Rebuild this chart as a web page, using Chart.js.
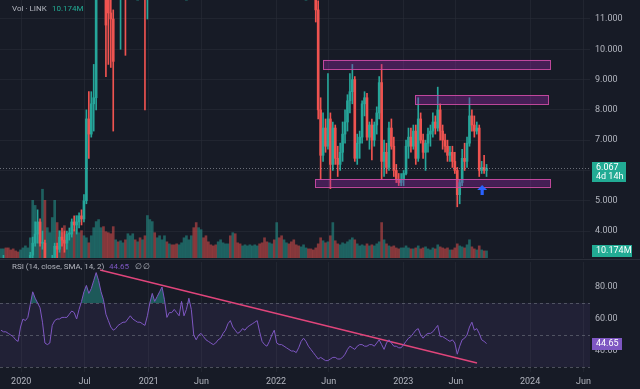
<!DOCTYPE html>
<html>
<head>
<meta charset="utf-8">
<script src="https://cdn.jsdelivr.net/npm/chart.js@4.4.1/dist/chart.umd.min.js"></script>
<style>
  html, body { margin: 0; padding: 0; background: #171b26; }
  #lienzo { position: relative; width: 640px; height: 389px; overflow: hidden; background: #171b26; }
  #lienzo canvas { position: absolute; left: 0; }
  #precio { top: 0; }
  #rsi { top: 260px; }
  #separador { position: absolute; left: 0; top: 259px; width: 640px; height: 1px; background: #2a2e39; }
</style>
</head>
<body>
<div id="lienzo">
  <canvas id="precio" width="640" height="258"></canvas>
  <div id="separador"></div>
  <canvas id="rsi" width="640" height="129"></canvas>
</div>
<script>
// Velas semanales LINK (semana 0 = 4 nov 2019)
const aperturas = [
  2.75,2.85,2.9,2.3,2.2,2.1,2.0,1.85,1.8,1.95,
  2.3,2.45,2.6,3.2,3.6,3.9,4.3,3.6,3.6,2.1,
  2.3,2.7,3.1,3.5,3.4,3.8,3.7,3.6,3.9,3.9,
  4.3,4.2,4.3,4.5,4.4,5.0,7.7,7.2,8.2,8.4,
  12.0,15.6,16.5,15.3,12.8,11.2,11.0,12.0,12.5,12.0,
  12.6,13.0,12.4,12.5,12.6,14.0,13.5,13.5,12.5,13.0,
  11.7,12.8,16.5,22.0,21.0,22.5,25.0,28.0,33.0,26.0,
  30.0,28.5,28.0,27.0,31.5,33.0,37.0,37.0,43.0,46.0,
  36.0,26.0,27.0,28.0,25.0,20.5,20.0,18.5,18.0,15.5,
  20.0,21.5,24.5,26.5,28.5,28.0,33.0,30.0,28.0,23.0,
  26.5,27.5,29.0,30.5,31.5,33.5,34.0,28.5,25.5,22.0,
  19.5,20.5,21.0,20.5,25.0,23.0,16.5,17.5,18.5,16.5,
  14.5,13.8,13.3,13.0,14.2,16.5,16.5,14.8,13.8,13.4,
  11.3,8.0,6.5,7.4,6.8,7.7,6.2,7.4,6.4,6.2,
  6.6,7.2,7.6,8.3,8.6,9.0,6.4,6.9,7.1,8.2,
  8.4,7.1,7.5,7.0,7.5,7.9,8.9,6.3,6.6,6.1,
  7.4,6.8,6.0,5.7,5.6,5.7,5.9,6.8,7.1,6.8,
  7.3,6.4,7.7,7.0,6.6,6.9,7.2,7.3,7.6,7.4,
  8.0,7.3,7.0,6.8,6.5,6.6,6.3,6.0,5.2,5.6,
  6.4,6.3,6.9,7.8,7.5,7.3,7.4,6.0,6.1,6.0
];
const maximos = [
  3.05,3.2,2.95,2.5,2.3,2.15,2.1,1.95,2.0,2.35,
  2.6,2.7,3.3,3.8,4.3,4.7,4.4,4.0,3.7,2.6,
  2.9,3.2,3.6,3.6,4.0,4.1,4.0,4.0,4.1,4.4,
  4.5,4.5,4.6,4.7,5.2,8.0,8.6,8.6,9.5,12.5,
  16.0,20.1,17.5,16.5,13.0,12.5,11.3,12.8,13.2,13.0,
  13.5,13.6,13.2,13.6,15.0,15.5,15.2,14.0,14.3,13.5,
  13.2,17.0,23.0,24.0,24.5,26.0,29.0,35.0,34.0,31.0,
  32.0,33.0,29.0,32.0,34.0,44.0,41.0,45.0,52.0,52.0,
  38.0,34.0,35.0,32.0,28.0,21.0,21.5,21.0,18.8,20.5,
  23.0,25.0,28.5,29.0,30.5,35.0,36.0,32.0,29.5,27.5,
  29.0,30.0,32.0,33.0,36.0,37.0,35.0,29.5,28.0,23.5,
  22.5,23.0,23.5,28.0,27.0,24.0,18.0,19.0,19.5,17.5,
  15.5,15.0,14.0,14.5,17.0,18.0,17.0,15.5,14.8,14.0,
  11.6,8.4,7.9,7.7,9.2,7.9,7.6,7.5,6.8,6.9,
  7.6,8.0,8.5,9.2,9.5,9.1,7.2,7.3,8.3,8.6,
  8.55,7.6,7.7,7.6,8.1,9.1,9.5,7.0,6.9,7.6,
  7.7,7.1,6.2,5.9,5.9,6.0,7.0,7.4,7.4,7.5,
  7.5,8.4,7.9,7.2,7.0,7.4,7.5,7.9,7.8,8.75,
  8.2,7.5,7.2,7.0,6.8,6.8,6.6,6.1,5.7,6.7,
  6.9,7.1,8.4,8.0,7.8,7.6,7.5,6.3,6.5,6.2
];
const minimos = [
  2.65,2.7,2.2,2.1,2.0,1.95,1.75,1.75,1.75,1.9,
  2.2,2.3,2.5,3.1,3.5,3.6,3.5,3.4,1.6,1.9,
  2.2,2.6,3.0,3.1,3.3,3.5,3.3,3.4,3.7,3.8,
  4.0,3.9,4.1,4.2,4.3,4.9,6.4,7.1,7.3,8.0,
  11.8,14.8,13.9,9.1,9.5,9.4,7.3,11.7,11.8,10.0,
  12.0,9.8,11.9,11.9,12.3,12.0,12.8,11.8,12.0,8.0,
  11.0,12.5,14.4,18.7,19.5,20.5,24.0,27.5,22.0,25.5,
  27.0,27.0,23.5,26.5,30.0,32.0,29.0,36.5,41.0,32.0,
  16.0,24.0,26.0,23.0,20.0,15.5,17.5,17.8,15.3,13.5,
  19.0,20.5,24.0,24.0,26.5,27.5,23.0,27.5,21.5,22.0,
  24.5,25.0,26.5,27.5,30.0,32.0,26.5,23.0,18.5,18.5,
  17.5,19.5,19.5,20.0,22.0,15.0,14.0,15.5,15.5,13.5,
  11.8,12.8,12.4,12.8,14.0,15.5,14.5,12.8,13.2,10.9,
  7.7,5.7,6.3,6.6,6.7,5.4,6.0,6.2,5.8,6.0,
  6.3,6.9,7.3,7.9,8.2,6.3,6.2,6.4,6.9,7.8,
  7.0,6.7,6.35,6.8,7.2,7.7,5.7,5.8,5.9,6.0,
  6.7,5.8,5.6,5.5,5.5,5.5,5.85,6.4,6.6,6.7,
  6.2,6.3,6.9,6.4,6.0,6.6,6.8,7.1,7.2,7.3,
  7.0,6.7,6.6,6.3,6.3,6.1,5.9,4.8,4.9,5.5,
  6.0,6.1,6.8,7.3,7.1,7.2,5.8,5.9,5.9,5.8
];
const cierres = [
  2.85,2.9,2.3,2.2,2.1,2.0,1.85,1.8,1.95,2.3,
  2.45,2.6,3.2,3.6,3.9,4.3,3.6,3.6,2.1,2.3,
  2.7,3.1,3.5,3.4,3.8,3.7,3.6,3.9,3.9,4.3,
  4.2,4.3,4.5,4.4,5.0,7.7,7.2,8.2,8.4,12.0,
  15.6,16.5,15.3,10.8,11.2,11.0,9.6,12.5,12.0,12.6,
  13.0,12.4,12.5,12.6,14.0,13.5,13.5,12.5,13.0,11.7,
  12.8,16.5,22.0,21.0,22.5,25.0,28.0,33.0,26.0,30.0,
  28.5,28.0,27.0,31.5,33.0,37.0,37.0,43.0,46.0,36.0,
  26.0,27.0,28.0,25.0,20.5,20.0,18.5,18.0,15.5,20.0,
  21.5,24.5,26.5,28.5,28.0,33.0,30.0,28.0,23.0,26.5,
  27.5,29.0,30.5,31.5,33.5,34.0,28.5,25.5,22.0,19.5,
  20.5,21.0,20.5,25.0,23.0,16.5,17.5,18.5,16.5,14.5,
  13.8,13.3,13.0,14.2,16.5,16.5,14.8,13.8,13.4,11.3,
  8.0,6.5,7.4,6.8,7.7,6.2,7.4,6.4,6.2,6.6,
  7.2,7.6,8.3,8.6,9.0,6.4,6.9,7.1,8.2,8.4,
  7.1,7.5,7.0,7.5,7.9,8.9,6.3,6.6,6.1,7.4,
  6.8,6.0,5.7,5.6,5.7,5.9,6.8,7.1,6.8,7.3,
  6.4,7.7,7.0,6.6,6.9,7.2,7.3,7.6,7.4,8.0,
  7.3,7.0,6.8,6.5,6.6,6.3,6.0,5.2,5.6,6.4,
  6.3,6.9,7.8,7.5,7.3,7.4,6.0,6.1,6.0,6.067
];
// Volumen en millones
const volumenes = [
  13.1,13.1,14.5,14.5,11.6,13.1,10.2,8.7,11.6,14.5,
  17.4,14.5,29,82.7,75.4,39.2,50.8,98.6,82.7,43.5,
  36.3,58,82.7,50.8,39.2,36.3,46.4,31.9,36.3,43.5,
  40.6,60.9,36.3,39.2,31.9,29,21.8,31.9,43.5,52.2,
  55.1,43.5,45,37.7,36.3,34.8,45,26.1,23.2,24.7,
  21.8,26.1,34.8,31.9,34.8,26.1,23.2,29,26.1,31.9,
  60.9,55.1,52.2,36.3,29,31.9,26.1,31.9,23.2,20.3,
  18.9,18.9,20.3,18.9,21.8,29,31.9,26.1,31.9,43.5,
  50.8,43.5,40.6,29,31.9,23.2,18.9,17.4,18.9,23.2,
  26.1,21.8,20.3,20.3,31.9,36.3,34.8,21.8,20.3,17.4,
  18.9,17.4,18.9,17.4,18.9,17.4,20.3,21.8,29,23.2,
  21.8,20.3,26.1,50.8,29,31.9,26.1,21.8,20.3,23.2,
  26.1,18.9,17.4,16,18.9,14.5,13.1,13.1,11.6,14.5,
  20.3,29,24.7,21.8,23.2,31.9,50.8,24.7,20.3,18.9,
  21.8,20.3,23.2,26.1,29,26.1,20.3,17.4,18.9,17.4,
  20.3,17.4,18.9,17.4,20.3,23.2,50.8,26.1,20.3,17.4,
  16,17.4,14.5,13.1,14.5,14.5,17.4,14.5,13.1,13.1,
  14.5,17.4,13.1,14.5,16,13.1,11.6,14.5,13.1,18.9,
  16,14.5,13.1,14.5,11.6,11.6,14.5,20.3,17.4,16,
  14.5,18.9,26.1,16,13.1,11.6,17.4,11.6,10.2,10.174
];
const rsi = [
  53,52,52,51,50,49,47,46,55,60,
  59,61,69,77,73,70,67,58,45,44,
  45,56,59,60,60,61,61,61,63,65,
  64,60,66,71,77,81,76,79,84,89,
  84,77,72,63,59,55,53,54,56,57,
  58,58,60,62,60,59,58,58,57,56,
  62,70,76,71,74,77,80,72,61,64,
  64,66,64,62,71,62,66,73,66,50,
  47,50,51,49,47,46,45,44,45,47,
  48,51,53,57,59,55,53,51,52,54,
  53,55,56,57,58,59,52,46,44,43,
  46,50,53,45,44,44,43,42,41,40,
  40,39,42,46,48,46,43,41,39,37,
  35,36,35,34,34,35,36,36,35,35,
  36,38,41,43,42,41,43,44,44,43,
  43,44,44,43,45,47,44,41,45,47,
  45,43,43,42,42,44,46,48,49,51,
  53,54,50,48,50,51,51,52,54,56,
  49,49,48,47,46,47,45,38,43,47,
  48,50,55,58,53,54,51,47,46,44.65
];
// Eje de fechas (en semanas desde la primera vela)
const fechaTicks = [8.29, 34.29, 60.57, 82.14, 112.71, 134.29, 164.86, 186.43, 216.86, 238.71];
const fechaEtiquetas = ['2020', 'Jul', '2021', 'Jun', '2022', 'Jun', '2023', 'Jun', '2024', 'Jun'];
const precioTicks = [4, 5, 6, 7, 8, 9, 10, 11];
const rsiTicks = [40, 60, 80];
// Rectángulos dibujados (semana inicio/fin, precio bajo/alto)
const rectDesde = [132, 169.7, 128.7];
const rectHasta = [225, 224.2, 225];
const rectBajo = [9.35, 8.19, 5.46];
const rectAlto = [9.65, 8.49, 5.72];
// Flecha azul
const flechaSemana = 197.2;
const flechaPrecio = 5.52;
// Línea de tendencia sobre el RSI
const tendenciaX = [40.6, 195.1];
const tendenciaY = [90.6, 32.5];

const VERDE = '#26a69a';
const ROJO = '#ef5350';
const TEXTO = '#b2b5be';
const REJILLA = 'rgba(42,46,57,0.55)';
const FUENTE = 'Roboto, "Noto Sans", sans-serif';
Chart.defaults.font.family = FUENTE;

const semanas = aperturas.map((_, i) => i);
const sube = semanas.map(i => cierres[i] >= aperturas[i]);
const colorVela = sube.map(s => s ? VERDE : ROJO);
const colorVol = sube.map(s => s ? 'rgba(38,166,154,0.5)' : 'rgba(239,83,80,0.5)');
const ultimo = cierres.length - 1;

// sin márgenes automáticos para que el área del gráfico sea exacta
function sinRelleno(s) {
  s.paddingTop = 0; s.paddingBottom = 0; s.paddingLeft = 0; s.paddingRight = 0;
}

const ejeX = {
  type: 'linear', min: -0.41, max: 241.4, offset: false,
  afterBuildTicks: s => { s.ticks = fechaTicks.map(v => ({ value: v })); },
  grid: { color: REJILLA, drawTicks: false, offset: false },
  border: { display: false }
};

function insignia(ctx, x, y, w, h, fondo, lineas) {
  ctx.fillStyle = fondo;
  ctx.fillRect(x, y, w, h);
  ctx.fillStyle = '#ffffff';
  ctx.font = '9px ' + FUENTE;
  ctx.textBaseline = 'middle';
  ctx.textAlign = 'left';
  lineas.forEach((t, i) => ctx.fillText(t, x + 4, y + 6 + i * 9));
}

const dibujosPrecio = {
  id: 'dibujosPrecio',
  afterDatasetsDraw(chart) {
    const { ctx, chartArea: a, scales: { x, y } } = chart;
    ctx.save();
    ctx.beginPath();
    ctx.rect(a.left, a.top, a.width, a.height);
    ctx.clip();
    // línea del último precio
    const py = Math.round(y.getPixelForValue(cierres[ultimo])) + 0.5;
    ctx.setLineDash([1, 2]);
    ctx.strokeStyle = 'rgba(178,181,190,0.55)';
    ctx.lineWidth = 1;
    ctx.beginPath();
    ctx.moveTo(a.left, py);
    ctx.lineTo(a.right, py);
    ctx.stroke();
    ctx.setLineDash([]);
    // rectángulos
    for (let i = 0; i < rectDesde.length; i++) {
      const x0 = x.getPixelForValue(rectDesde[i]);
      const x1 = x.getPixelForValue(rectHasta[i]);
      const y0 = y.getPixelForValue(rectAlto[i]);
      const y1 = y.getPixelForValue(rectBajo[i]);
      ctx.fillStyle = 'rgba(156,39,176,0.35)';
      ctx.fillRect(x0, y0, x1 - x0, y1 - y0);
      ctx.strokeStyle = 'rgba(206,76,166,0.9)';
      ctx.strokeRect(Math.round(x0) + 0.5, Math.round(y0) + 0.5, Math.round(x1 - x0), Math.round(y1 - y0));
    }
    // flecha hacia arriba
    const fx = x.getPixelForValue(flechaSemana);
    const fy = y.getPixelForValue(flechaPrecio);
    ctx.fillStyle = '#2962ff';
    ctx.beginPath();
    ctx.moveTo(fx, fy);
    ctx.lineTo(fx + 5, fy + 5);
    ctx.lineTo(fx + 1.6, fy + 5);
    ctx.lineTo(fx + 1.6, fy + 10);
    ctx.lineTo(fx - 1.6, fy + 10);
    ctx.lineTo(fx - 1.6, fy + 5);
    ctx.lineTo(fx - 5, fy + 5);
    ctx.closePath();
    ctx.fill();
    ctx.restore();
  },
  afterDraw(chart) {
    const { ctx, chartArea: a, scales: { y, yVol } } = chart;
    ctx.save();
    const py = y.getPixelForValue(cierres[ultimo]);
    insignia(ctx, a.right + 2, Math.round(py) - 6, 34, 20, '#22ab94', [cierres[ultimo].toFixed(3), '4d 14h']);
    const vy = yVol.getPixelForValue(volumenes[ultimo]);
    insignia(ctx, a.right + 2, Math.round(vy) - 6, 40, 12, '#22ab94', [volumenes[ultimo].toFixed(3) + 'M']);
    ctx.font = '8px ' + FUENTE;
    ctx.textBaseline = 'middle';
    ctx.textAlign = 'left';
    ctx.fillStyle = TEXTO;
    ctx.fillText('Vol · LINK', 12, 9);
    ctx.fillStyle = '#22ab94';
    ctx.fillText(volumenes[ultimo].toFixed(3) + 'M', 52, 9);
    ctx.restore();
  }
};

new Chart(document.getElementById('precio'), {
  type: 'bar',
  data: {
    datasets: [
      {
        label: 'mechas',
        data: semanas.map(i => ({ x: i, y: [minimos[i], maximos[i]] })),
        backgroundColor: colorVela,
        barThickness: 1,
        grouped: false,
        yAxisID: 'y',
        order: 2
      },
      {
        label: 'cuerpos',
        data: semanas.map(i => ({ x: i, y: [Math.min(aperturas[i], cierres[i]), Math.max(aperturas[i], cierres[i])] })),
        backgroundColor: colorVela,
        barThickness: 2,
        minBarLength: 1,
        grouped: false,
        yAxisID: 'y',
        order: 1
      },
      {
        label: 'volumen',
        data: semanas.map(i => ({ x: i, y: volumenes[i] })),
        backgroundColor: colorVol,
        barThickness: 2,
        grouped: false,
        yAxisID: 'yVol',
        order: 3
      }
    ]
  },
  options: {
    responsive: false,
    animation: false,
    layout: { padding: 0 },
    plugins: { legend: { display: false }, tooltip: { enabled: false } },
    scales: {
      x: Object.assign({}, ejeX, {
        ticks: { display: false },
        afterFit: s => { s.height = 0; sinRelleno(s); }
      }),
      y: {
        position: 'right', min: 3.11, max: 11.627,
        afterBuildTicks: s => { s.ticks = precioTicks.map(v => ({ value: v })); },
        afterFit: s => { s.width = 50; sinRelleno(s); },
        ticks: { padding: 5, color: TEXTO, font: { size: 9 }, callback: v => Number(v).toFixed(3) },
        grid: { color: REJILLA, drawTicks: false },
        border: { display: false }
      },
      yVol: { display: false, min: 0, max: 370 }
    }
  },
  plugins: [dibujosPrecio]
});

const dibujosRsi = {
  id: 'dibujosRsi',
  beforeDatasetsDraw(chart) {
    const { ctx, chartArea: a, scales: { y } } = chart;
    ctx.save();
    const y70 = y.getPixelForValue(70), y30 = y.getPixelForValue(30);
    ctx.fillStyle = 'rgba(126,87,194,0.1)';
    ctx.fillRect(a.left, y70, a.width, y30 - y70);
    ctx.setLineDash([3, 3]);
    ctx.strokeStyle = 'rgba(120,123,134,0.55)';
    ctx.lineWidth = 1;
    [70, 50, 30].forEach(v => {
      const yy = Math.round(y.getPixelForValue(v)) + 0.5;
      ctx.beginPath();
      ctx.moveTo(a.left, yy);
      ctx.lineTo(a.right, yy);
      ctx.stroke();
    });
    ctx.restore();
  },
  afterDraw(chart) {
    const { ctx, chartArea: a, scales: { y } } = chart;
    ctx.save();
    const ry = y.getPixelForValue(rsi[ultimo]);
    insignia(ctx, a.right + 2, Math.round(ry) - 6, 30, 12, '#7e57c2', [rsi[ultimo].toFixed(2)]);
    ctx.font = '8px ' + FUENTE;
    ctx.textBaseline = 'middle';
    ctx.textAlign = 'left';
    ctx.fillStyle = TEXTO;
    ctx.fillText('RSI (14, close, SMA, 14, 2)', 12, 7);
    ctx.fillStyle = '#7e57c2';
    ctx.fillText(rsi[ultimo].toFixed(2), 109, 7);
    ctx.fillStyle = TEXTO;
    ctx.fillText('∅', 135, 7);
    ctx.fillText('∅', 143, 7);
    ctx.restore();
  }
};

new Chart(document.getElementById('rsi'), {
  type: 'line',
  data: {
    datasets: [
      {
        label: 'RSI',
        data: semanas.map(i => ({ x: i, y: rsi[i] })),
        borderColor: '#7e57c2',
        borderWidth: 1,
        pointRadius: 0,
        tension: 0,
        fill: { target: { value: 70 }, above: 'rgba(38,166,154,0.45)', below: 'rgba(0,0,0,0)' }
      },
      {
        label: 'tendencia',
        data: tendenciaX.map((v, i) => ({ x: v, y: tendenciaY[i] })),
        borderColor: '#e0457b',
        borderWidth: 1.5,
        pointRadius: 0,
        fill: false
      }
    ]
  },
  options: {
    responsive: false,
    animation: false,
    layout: { padding: { top: 2 } },
    plugins: { legend: { display: false }, tooltip: { enabled: false } },
    scales: {
      x: Object.assign({}, ejeX, {
        ticks: {
          padding: 4, color: TEXTO, font: { size: 9 }, maxRotation: 0, autoSkip: false,
          callback: v => fechaEtiquetas[fechaTicks.indexOf(v)]
        },
        afterFit: s => { s.height = 17; sinRelleno(s); }
      }),
      y: {
        position: 'right', min: 26.875, max: 95.625,
        afterBuildTicks: s => { s.ticks = rsiTicks.map(v => ({ value: v })); },
        afterFit: s => { s.width = 50; sinRelleno(s); },
        ticks: { padding: 5, color: TEXTO, font: { size: 9 }, callback: v => Number(v).toFixed(2) },
        grid: { color: 'rgba(0,0,0,0)', drawTicks: false },
        border: { display: false }
      }
    }
  },
  plugins: [dibujosRsi]
});
</script>
</body>
</html>
